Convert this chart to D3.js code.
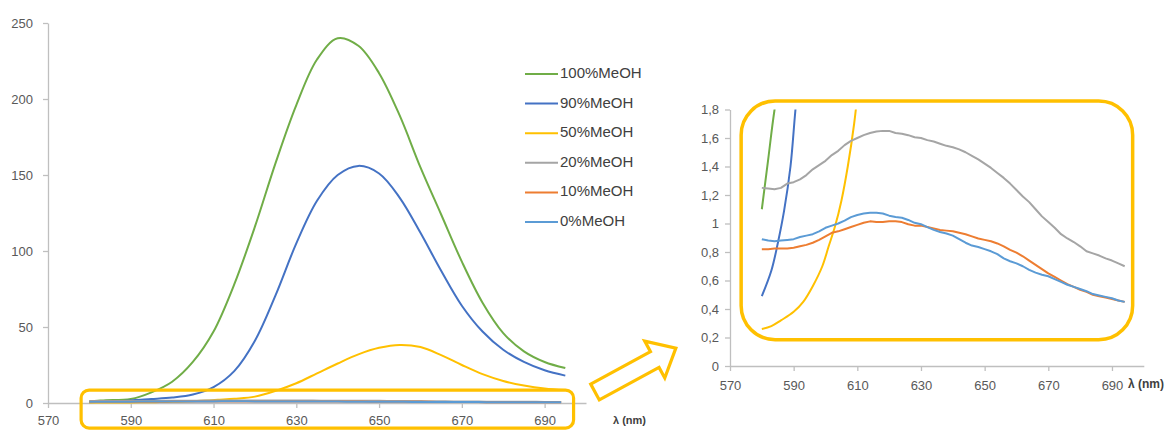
<!DOCTYPE html>
<html>
<head>
<meta charset="utf-8">
<script src="https://cdn.jsdelivr.net/npm/d3@7"></script>
<style>
  body { margin: 0; background: #fff; }
  text { font-family: "Liberation Sans", Arial, sans-serif; }
  .tick text { fill: #595959; font-size: 13px; }
  .domain, .tick line { stroke: #bfbfbf; stroke-width: 1.3; }
  .legend text { fill: #404040; font-size: 15px; }
  .unit { fill: #404040; font-weight: bold; }
</style>
</head>
<body>
<div id="chart"></div>
<script>
// series names + colours (legend order)
const seriesNames = ['100%MeOH', '90%MeOH', '50%MeOH', '20%MeOH', '10%MeOH', '0%MeOH'];
const seriesColors = ['#70ad47', '#4472c4', '#ffc000', '#a5a5a5', '#ed7d31', '#5b9bd5'];

// big emission bands
const nm100 = [580, 582, 584, 590, 595, 600, 605, 610, 615, 620, 625, 630, 635, 640, 645, 650, 655, 660, 665, 670, 675, 680, 685, 690, 695];
const meoh100 = [1.1, 1.45, 1.8, 2.6, 7, 14, 27, 47, 78, 116, 158, 196, 226, 240, 235, 217, 189, 155, 124, 93, 66, 46, 34, 27, 23];

const nm90 = [580, 583, 585, 587, 589, 591, 595, 600, 605, 610, 615, 620, 625, 630, 635, 640, 645, 650, 655, 660, 665, 670, 675, 680, 685, 690, 695];
const meoh90 = [0.49, 0.67, 0.86, 1.09, 1.4, 1.9, 2.6, 3.6, 5.6, 10.5, 21, 41, 71, 105, 133, 150, 156, 151, 135, 112, 87, 64, 47, 35, 27, 21.5, 18];

const nm50 = [580, 583, 586, 590, 593, 596, 599, 601, 603, 605, 607, 609, 611, 615, 620, 625, 630, 635, 640, 645, 650, 655, 660, 665, 670, 675, 680, 685, 690, 695];
const meoh50 = [0.26, 0.28, 0.32, 0.38, 0.45, 0.56, 0.7, 0.84, 0.98, 1.16, 1.4, 1.7, 2.1, 2.8, 4.2, 8, 13, 19.5, 26, 32, 36.3, 38.2, 36.8, 31.5, 25, 19, 14.5, 11.5, 9.5, 8.5];

// weak spectra, common wavelength grid
const nmLow = [580, 582, 584, 586, 588, 590, 592, 594, 596, 598, 600, 602, 604, 606, 608, 610, 612, 614, 616, 618,
  620, 622, 624, 626, 628, 630, 632, 634, 636, 638, 640, 642, 644, 646, 648, 650, 652, 654, 656, 658,
  660, 662, 664, 666, 668, 670, 672, 674, 676, 678, 680, 682, 684, 686, 688, 690, 692, 694];
const meoh20 = [1.25, 1.245, 1.24, 1.25, 1.28, 1.29, 1.31, 1.34, 1.38, 1.41, 1.44, 1.48, 1.51, 1.55, 1.58, 1.6, 1.62, 1.635, 1.645, 1.65,
  1.65, 1.635, 1.63, 1.62, 1.605, 1.6, 1.585, 1.575, 1.56, 1.545, 1.535, 1.52, 1.5, 1.475, 1.45, 1.42, 1.39, 1.355, 1.32, 1.28,
  1.235, 1.19, 1.15, 1.1, 1.05, 1.01, 0.97, 0.925, 0.895, 0.87, 0.84, 0.805, 0.79, 0.775, 0.755, 0.74, 0.72, 0.7];
const meoh10 = [0.82, 0.82, 0.825, 0.825, 0.825, 0.83, 0.84, 0.85, 0.865, 0.885, 0.91, 0.935, 0.945, 0.96, 0.975, 0.99, 1.005, 1.015, 1.01, 1.01,
  1.015, 1.015, 1.01, 0.995, 0.985, 0.985, 0.975, 0.965, 0.955, 0.95, 0.945, 0.935, 0.925, 0.91, 0.895, 0.885, 0.875, 0.86, 0.84, 0.815,
  0.795, 0.77, 0.74, 0.71, 0.68, 0.65, 0.625, 0.6, 0.575, 0.555, 0.535, 0.52, 0.5, 0.49, 0.48, 0.47, 0.46, 0.45];
const meoh0 = [0.89, 0.88, 0.875, 0.88, 0.885, 0.89, 0.905, 0.915, 0.925, 0.945, 0.97, 0.985, 1.0, 1.02, 1.045, 1.06, 1.07, 1.075, 1.075, 1.07,
  1.055, 1.045, 1.04, 1.025, 1.005, 0.995, 0.975, 0.955, 0.94, 0.93, 0.915, 0.89, 0.865, 0.845, 0.835, 0.82, 0.805, 0.785, 0.755, 0.735,
  0.72, 0.7, 0.675, 0.655, 0.64, 0.63, 0.61, 0.59, 0.57, 0.555, 0.54, 0.525, 0.505, 0.495, 0.485, 0.475, 0.46, 0.45];

const xTicks = [570, 590, 610, 630, 650, 670, 690];
const yTicksLeft = [0, 50, 100, 150, 200, 250];
const yTicksRight = [0, 0.2, 0.4, 0.6, 0.8, 1, 1.2, 1.4, 1.6, 1.8];

const zip = (xs, ys) => xs.map((x, i) => ({ x: x, y: ys[i] }));
const series = [
  zip(nm100, meoh100), zip(nm90, meoh90), zip(nm50, meoh50),
  zip(nmLow, meoh20), zip(nmLow, meoh10), zip(nmLow, meoh0)
];
const smooth = [true, true, true, false, false, false];

const width = 1169, height = 430;
const svg = d3.select('#chart').append('svg')
  .attr('width', width).attr('height', height);

const highlight = '#ffc000';
const commaFmt = d3.formatLocale({ decimal: ',', thousands: '.', grouping: [3], currency: ['', ''] }).format('~g');

// ---------- left chart ----------
const xL = d3.scaleLinear().domain([570, 700]).range([48, 586]);
const yL = d3.scaleLinear().domain([0, 250]).range([403, 23]);

svg.append('g')
  .attr('transform', `translate(${xL.range()[0]},0)`)
  .call(d3.axisLeft(yL).tickValues(yTicksLeft).tickSize(5).tickPadding(10).tickSizeOuter(0));
svg.append('g')
  .attr('transform', `translate(0,${yL(0)})`)
  .call(d3.axisBottom(xL).tickValues(xTicks).tickSize(5).tickPadding(8).tickSizeOuter(0));

const lineL = (i) => d3.line()
  .x(d => xL(d.x)).y(d => yL(d.y))
  .curve(smooth[i] ? d3.curveCatmullRom.alpha(0.5) : d3.curveLinear);

svg.append('g').selectAll('path')
  .data(series)
  .join('path')
  .attr('fill', 'none')
  .attr('stroke', (d, i) => seriesColors[i])
  .attr('stroke-width', 2)
  .attr('d', (d, i) => lineL(i)(d));

svg.append('text').attr('class', 'unit')
  .attr('x', 613).attr('y', 421).attr('font-size', 11)
  .attr('dominant-baseline', 'middle')
  .text('λ (nm)');

// legend
const legend = svg.append('g').attr('class', 'legend')
  .attr('transform', 'translate(525,74)');
const rows = legend.selectAll('g')
  .data(seriesNames)
  .join('g')
  .attr('transform', (d, i) => `translate(0,${i * 29.6})`);
rows.append('line')
  .attr('x1', 0).attr('x2', 33)
  .attr('stroke', (d, i) => seriesColors[i])
  .attr('stroke-width', 2);
rows.append('text')
  .attr('x', 35).attr('dominant-baseline', 'middle')
  .text(d => d);

// highlight box on the baseline
svg.append('rect')
  .attr('x', xL(578)).attr('y', yL(8.5))
  .attr('width', xL(697) - xL(578))
  .attr('height', yL(-16.5) - yL(8.5))
  .attr('rx', 8)
  .attr('fill', 'none').attr('stroke', highlight).attr('stroke-width', 3.2);

// hollow arrow pointing to the zoomed chart
const arrowLen = 92, shaftHalf = 9, headHalf = 21, headLen = 24;
svg.append('path')
  .attr('transform', 'translate(595,392) rotate(-28.5)')
  .attr('d', d3.line()([
    [0, -shaftHalf], [arrowLen - headLen, -shaftHalf], [arrowLen - headLen, -headHalf],
    [arrowLen, 0],
    [arrowLen - headLen, headHalf], [arrowLen - headLen, shaftHalf], [0, shaftHalf]
  ]) + 'Z')
  .attr('fill', '#fff').attr('stroke', highlight).attr('stroke-width', 3.2)
  .attr('stroke-linejoin', 'miter');

// ---------- right (zoomed) chart ----------
const xR = d3.scaleLinear().domain([570, 700]).range([730, 1143.8]);
const yR = d3.scaleLinear().domain([0, 1.8]).range([366, 109.5]);

svg.append('g')
  .attr('transform', `translate(${xR.range()[0]},0)`)
  .call(d3.axisLeft(yR).tickValues(yTicksRight).tickFormat(commaFmt).tickSize(5).tickPadding(6).tickSizeOuter(0));
svg.append('g')
  .attr('transform', `translate(0,${yR(0)})`)
  .call(d3.axisBottom(xR).tickValues(xTicks).tickSize(5).tickPadding(10).tickSizeOuter(0));

svg.append('defs').append('clipPath').attr('id', 'clipR')
  .append('rect')
  .attr('x', xR(570)).attr('y', yR(1.8))
  .attr('width', xR(700) - xR(570)).attr('height', yR(0) - yR(1.8));

const lineR = (i) => d3.line()
  .x(d => xR(d.x)).y(d => yR(d.y))
  .curve(smooth[i] ? d3.curveCatmullRom.alpha(0.5) : d3.curveLinear);

svg.append('g').attr('clip-path', 'url(#clipR)')
  .selectAll('path')
  .data(series)
  .join('path')
  .attr('fill', 'none')
  .attr('stroke', (d, i) => seriesColors[i])
  .attr('stroke-width', 2)
  .attr('stroke-linejoin', 'round')
  .attr('d', (d, i) => lineR(i)(d));

svg.append('rect')
  .attr('x', xR(573.5)).attr('y', yR(1.86))
  .attr('width', xR(696.5) - xR(573.5))
  .attr('height', yR(0.185) - yR(1.86))
  .attr('rx', 34)
  .attr('fill', 'none').attr('stroke', highlight).attr('stroke-width', 3.5);

svg.append('text').attr('class', 'unit')
  .attr('x', 1128).attr('y', 385).attr('font-size', 12)
  .attr('dominant-baseline', 'middle')
  .text('λ (nm)');
</script>
</body>
</html>
